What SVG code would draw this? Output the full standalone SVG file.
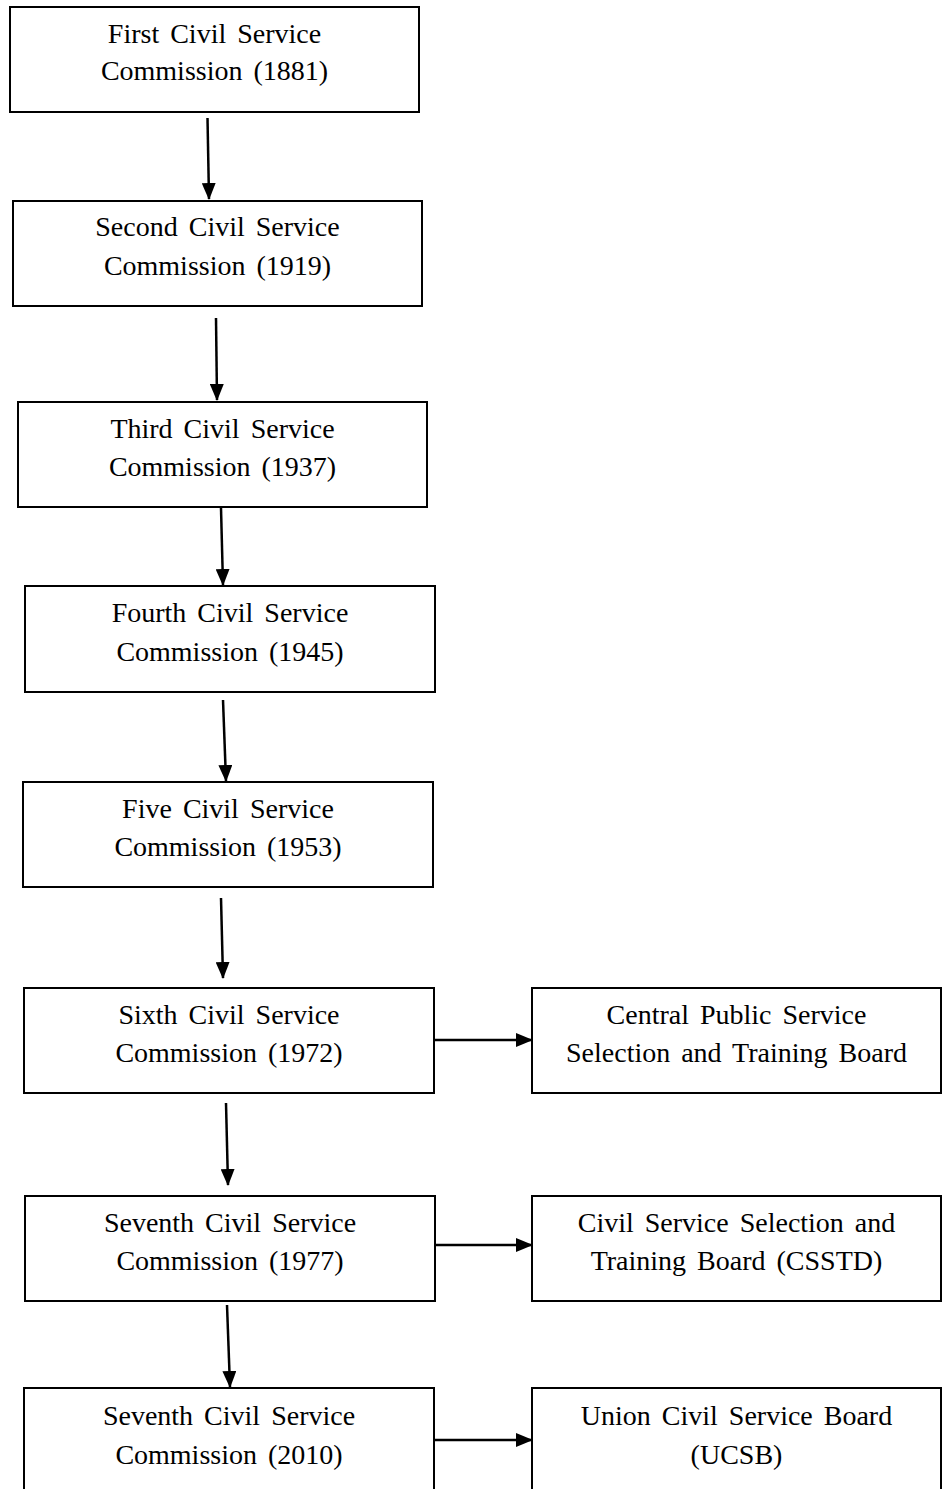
<svg xmlns="http://www.w3.org/2000/svg" width="944" height="1489" viewBox="0 0 944 1489">
<defs>
<style>
.box{fill:#fff;stroke:#000;stroke-width:2}
.t{font-family:"Liberation Serif","Times New Roman",serif;font-size:28px;fill:#000;text-anchor:middle;word-spacing:4px}
.c{stroke:#000;stroke-width:2.5;fill:none;marker-end:url(#ah)}
</style>
<marker id="ah" markerUnits="userSpaceOnUse" markerWidth="17" markerHeight="14" refX="16" refY="7" orient="auto">
<path d="M0,0 L17,7 L0,14 z" fill="#000"/>
</marker>
</defs>
<rect width="944" height="1489" fill="#fff"/>
<g id="n1"><rect class="box" x="10" y="7" width="409" height="105"/>
<text class="t" x="214.5" y="43">First Civil Service</text><text class="t" x="214.5" y="80">Commission (1881)</text></g>
<g id="n2"><rect class="box" x="13" y="201" width="409" height="105"/>
<text class="t" x="217.5" y="236">Second Civil Service</text><text class="t" x="217.5" y="275">Commission (1919)</text></g>
<g id="n3"><rect class="box" x="18" y="402" width="409" height="105"/>
<text class="t" x="222.5" y="438">Third Civil Service</text><text class="t" x="222.5" y="476">Commission (1937)</text></g>
<g id="n4"><rect class="box" x="25" y="586" width="410" height="106"/>
<text class="t" x="230" y="622">Fourth Civil Service</text><text class="t" x="230" y="661">Commission (1945)</text></g>
<g id="n5"><rect class="box" x="23" y="782" width="410" height="105"/>
<text class="t" x="228" y="818">Five Civil Service</text><text class="t" x="228" y="856">Commission (1953)</text></g>
<g id="n6"><rect class="box" x="24" y="988" width="410" height="105"/>
<text class="t" x="229" y="1024">Sixth Civil Service</text><text class="t" x="229" y="1062">Commission (1972)</text></g>
<g id="n6b"><rect class="box" x="532" y="988" width="409" height="105"/>
<text class="t" x="736.5" y="1024">Central Public Service</text><text class="t" x="736.5" y="1062">Selection and Training Board</text></g>
<g id="n7"><rect class="box" x="25" y="1196" width="410" height="105"/>
<text class="t" x="230" y="1232">Seventh Civil Service</text><text class="t" x="230" y="1270">Commission (1977)</text></g>
<g id="n7b"><rect class="box" x="532" y="1196" width="409" height="105"/>
<text class="t" x="736.5" y="1232">Civil Service Selection and</text><text class="t" x="736.5" y="1270">Training Board (CSSTD)</text></g>
<g id="n8"><rect class="box" x="24" y="1388" width="410" height="106"/>
<text class="t" x="229" y="1425">Seventh Civil Service</text><text class="t" x="229" y="1464">Commission (2010)</text></g>
<g id="n8b"><rect class="box" x="532" y="1388" width="409" height="106"/>
<text class="t" x="736.5" y="1425">Union Civil Service Board</text><text class="t" x="736.5" y="1464">(UCSB)</text></g>
<g id="connectors">
<line class="c" x1="207.5" y1="118" x2="209" y2="199"/>
<line class="c" x1="216" y1="318" x2="217" y2="400"/>
<line class="c" x1="221" y1="508" x2="223" y2="585"/>
<line class="c" x1="223" y1="700" x2="226" y2="781"/>
<line class="c" x1="221" y1="898" x2="223" y2="978"/>
<line class="c" x1="226" y1="1103" x2="228" y2="1185"/>
<line class="c" x1="227" y1="1305" x2="230" y2="1387"/>
<line class="c" x1="435" y1="1040" x2="532" y2="1040"/>
<line class="c" x1="435" y1="1245" x2="532" y2="1245"/>
<line class="c" x1="435" y1="1440" x2="532" y2="1440"/>
</g>
</svg>
